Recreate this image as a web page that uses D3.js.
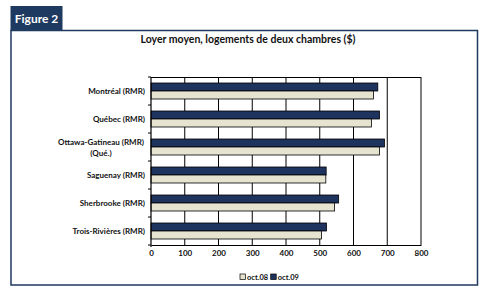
<!DOCTYPE html>
<html>
<head>
<meta charset="utf-8">
<script src="https://cdn.jsdelivr.net/npm/d3@7"></script>
<style>
  body { margin: 0; background: #fff; }
  text { font-family: Lato, "DejaVu Sans", sans-serif; font-weight: bold; }
</style>
</head>
<body>
<svg id="chart" width="485" height="291"></svg>
<script>
// data
var categories = ["Montréal (RMR)", "Québec (RMR)", "Ottawa-Gatineau (RMR)|(Qué.)", "Saguenay (RMR)", "Sherbrooke (RMR)", "Trois-Rivières (RMR)"];
var oct08 = [659, 653, 677, 518, 544, 505];
var oct09 = [672, 677, 692, 519, 556, 520];
var seriesNames = ["oct.08", "oct.09"];
var ticks = [0, 100, 200, 300, 400, 500, 600, 700, 800];

var navy = "#1f335f", beige = "#e6e3d0";
var svg = d3.select("#chart");

// frame + tab
svg.append("path")
  .attr("d", "M11,30.5 H477.5 V285 H11 Z")
  .attr("fill", "none").attr("stroke", "#1f3a60").attr("stroke-width", 1.5);
svg.append("rect").attr("x", 10.5).attr("y", 6).attr("width", 52).attr("height", 25).attr("fill", "#1f3a60");
svg.append("text").attr("x", 36.5).attr("y", 23).attr("text-anchor", "middle")
  .attr("fill", "#fff").attr("font-size", 12).text("Figure 2");

svg.append("text").attr("x", 248).attr("y", 42.5).attr("text-anchor", "middle")
  .attr("font-size", 10.5).attr("fill", "#111").text("Loyer moyen, logements de deux chambres ($)");

var x = d3.scaleLinear().domain([0, 800]).range([151, 421]);
var y = d3.scaleBand().domain(categories).range([77, 245]).paddingInner(12 / 28).paddingOuter(6 / 28);
var yb = d3.scaleBand().domain(["oct.09", "oct.08"]).range([0, y.bandwidth()]);

// grid lines
svg.append("g").selectAll("line").data(ticks.slice(1)).join("line")
  .attr("x1", d => x(d)).attr("x2", d => x(d)).attr("y1", 77).attr("y2", 245)
  .attr("stroke", "#000").attr("stroke-width", 1);
svg.append("line").attr("x1", 151).attr("x2", 421).attr("y1", 77.5).attr("y2", 77.5).attr("stroke", "#000");

// bars
var groups = svg.append("g").selectAll("g").data(categories).join("g")
  .attr("transform", d => "translate(0," + y(d) + ")");
groups.append("rect")
  .attr("x", x(0)).attr("y", yb("oct.09"))
  .attr("width", (d, i) => x(oct09[i]) - x(0)).attr("height", yb.bandwidth())
  .attr("fill", navy).attr("stroke", "#000").attr("stroke-width", 0.8);
groups.append("rect")
  .attr("x", x(0)).attr("y", yb("oct.08"))
  .attr("width", (d, i) => x(oct08[i]) - x(0)).attr("height", yb.bandwidth())
  .attr("fill", beige).attr("stroke", "#000").attr("stroke-width", 0.8);

// x axis (no tick marks, just labels)
var xAxis = svg.append("g").attr("transform", "translate(0,245)")
  .call(d3.axisBottom(x).tickValues(ticks).tickSize(0).tickPadding(7).tickSizeOuter(0));
xAxis.select(".domain").attr("stroke", "#000").attr("stroke-width", 1.2);
xAxis.selectAll("text").attr("font-size", 8).attr("fill", "#111").attr("dy", "0.55em")
  .style("font-family", "Lato, sans-serif").style("font-weight", "bold");

// y axis: ticks at category boundaries
var yAxis = svg.append("g");
yAxis.append("line").attr("x1", 151).attr("x2", 151).attr("y1", 77).attr("y2", 247).attr("stroke", "#000").attr("stroke-width", 1.2);
var step = y.step();
yAxis.selectAll("line.t").data(d3.range(categories.length + 1)).join("line").attr("class", "t")
  .attr("x1", 148).attr("x2", 151).attr("y1", i => 77 + i * step).attr("y2", i => 77 + i * step)
  .attr("stroke", "#000");

var labels = svg.append("g").selectAll("text").data(categories).join("text")
  .attr("font-size", 8).attr("fill", "#111").attr("text-anchor", "end");
labels.each(function (d) {
  var parts = d.split("|");
  var cy = y(d) + y.bandwidth() / 2;
  var t = d3.select(this);
  if (parts.length === 1) {
    t.attr("x", 145).attr("y", cy + 3).text(d);
  } else {
    t.attr("text-anchor", "middle");
    t.append("tspan").attr("x", 101).attr("y", cy - 2).text(parts[0]);
    t.append("tspan").attr("x", 101).attr("y", cy + 9).text(parts[1]);
  }
});

// legend
var legend = svg.append("g").attr("transform", "translate(240,279)");
var lx = 0;
[beige, navy].forEach(function (c, i) {
  legend.append("rect").attr("x", lx).attr("y", -5).attr("width", 5.5).attr("height", 5.5)
    .attr("fill", c).attr("stroke", "#000").attr("stroke-width", 0.7);
  var t = legend.append("text").attr("x", lx + 7).attr("y", 0.5).attr("font-size", 7.5).attr("fill", "#111").text(seriesNames[i]);
  lx += 7 + t.node().getComputedTextLength() + 2.5;
});
</script>
</body>
</html>
